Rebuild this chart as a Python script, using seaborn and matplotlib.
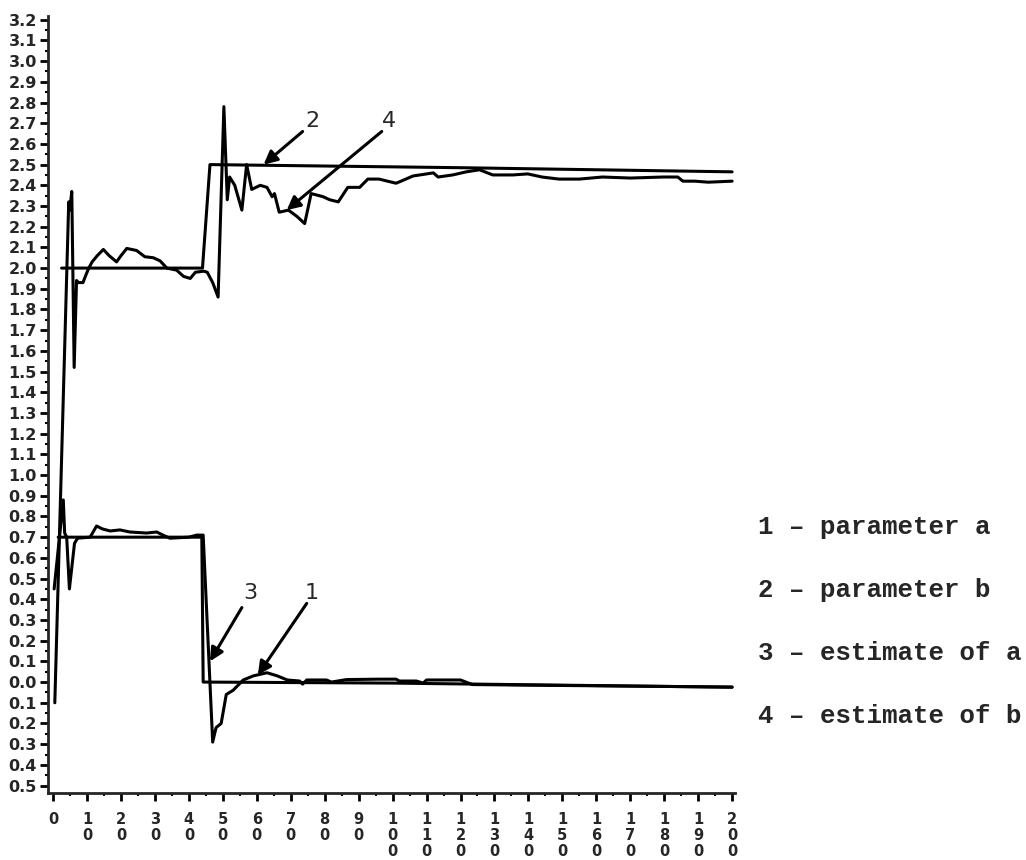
import matplotlib
matplotlib.use("Agg")
import matplotlib.pyplot as plt
from matplotlib.ticker import MultipleLocator, FixedLocator
import seaborn as sns

# ---- data -------------------------------------------------------------
# 1: true parameter a
param_a_x = [1.5, 43.8, 44.2, 100, 200]
param_a_y = [0.70, 0.70, 0.0, -0.005, -0.025]

# 2: true parameter b
param_b_x = [2.5, 44.0, 46.2, 120, 200]
param_b_y = [2.00, 2.00, 2.50, 2.485, 2.465]

# 3: estimate of a
est_a_x = [0.3, 3.0, 3.4, 4.0, 4.8, 6.3, 7.2, 10.9, 12.8, 14.5, 16.8, 19.7,
           22.6, 27.5, 30.5, 33.0, 34.4, 40.0, 42.3, 44.2, 47.0, 48.0, 49.5,
           51.0, 53.0, 56.0, 59.0, 63.0, 66.0, 69.0, 72.6, 73.5, 74.7, 80.5,
           82.0, 86.4, 96.0, 101.0, 102.0, 107.0, 109.0, 110.0, 120.0, 123.5,
           140.0, 160.0, 180.0, 200.0]
est_a_y = [0.45, 0.88, 0.72, 0.70, 0.45, 0.67, 0.695, 0.70, 0.754, 0.74, 0.73,
           0.735, 0.725, 0.72, 0.725, 0.705, 0.695, 0.70, 0.71, 0.71, -0.29,
           -0.22, -0.20, -0.06, -0.04, 0.01, 0.03, 0.045, 0.03, 0.01, 0.005,
           -0.01, 0.01, 0.01, 0.0, 0.012, 0.014, 0.014, 0.005, 0.005, -0.005,
           0.01, 0.01, -0.012, -0.015, -0.018, -0.021, -0.024]

# 4: estimate of b
est_b_x = [0.5, 4.6, 4.9, 5.5, 6.2, 6.9, 7.5, 8.8, 9.5, 10.5, 11.5, 13.0,
           14.8, 16.5, 18.7, 20.0, 21.7, 24.6, 27.0, 29.5, 31.5, 33.5, 36.4,
           38.4, 40.4, 41.9, 44.4, 45.4, 47.0, 48.6, 50.3, 51.3, 52.0, 53.5,
           55.6, 57.0, 58.5, 61.0, 63.0, 64.5, 65.2, 66.6, 69.3, 71.8, 74.1,
           76.0, 79.5, 81.5, 84.0, 86.8, 90.3, 92.7, 96.0, 101.0, 102.5, 106.0,
           112.0, 113.4, 117.7, 121.7, 125.6, 129.5, 135.4, 139.8, 144.0, 149.0,
           155.0, 161.8, 170.0, 179.7, 184.0, 185.5, 189.0, 193.0, 200.0]
est_b_y = [-0.10, 2.32, 2.28, 2.37, 1.52, 1.94, 1.93, 1.93, 1.96, 2.00, 2.03,
           2.06, 2.09, 2.06, 2.03, 2.06, 2.095, 2.085, 2.055, 2.05, 2.035, 2.00,
           1.99, 1.96, 1.95, 1.98, 1.985, 1.98, 1.93, 1.86, 2.78, 2.33, 2.44,
           2.40, 2.28, 2.50, 2.38, 2.40, 2.39, 2.345, 2.36, 2.27, 2.28, 2.25,
           2.215, 2.36, 2.345, 2.33, 2.32, 2.39, 2.39, 2.43, 2.43, 2.41, 2.42,
           2.445, 2.46, 2.44, 2.45, 2.465, 2.475, 2.45, 2.45, 2.455, 2.44, 2.43,
           2.43, 2.44, 2.435, 2.44, 2.44, 2.42, 2.42, 2.415, 2.42]

# tick positions / labels
x_ticks = [0, 10, 20, 30, 40, 50, 60, 70, 80, 90, 100, 110, 120, 130, 140,
           150, 160, 170, 180, 190, 200]
x_tick_labels = ["0", "1\n0", "2\n0", "3\n0", "4\n0", "5\n0", "6\n0", "7\n0",
                 "8\n0", "9\n0", "1\n0\n0", "1\n1\n0", "1\n2\n0", "1\n3\n0",
                 "1\n4\n0", "1\n5\n0", "1\n6\n0", "1\n7\n0", "1\n8\n0",
                 "1\n9\n0", "2\n0\n0"]
y_ticks = [3.2, 3.1, 3.0, 2.9, 2.8, 2.7, 2.6, 2.5, 2.4, 2.3, 2.2, 2.1, 2.0,
           1.9, 1.8, 1.7, 1.6, 1.5, 1.4, 1.3, 1.2, 1.1, 1.0, 0.9, 0.8, 0.7,
           0.6, 0.5, 0.4, 0.3, 0.2, 0.1, 0.0, -0.1, -0.2, -0.3, -0.4, -0.5]
y_tick_labels = ["3.2", "3.1", "3.0", "2.9", "2.8", "2.7", "2.6", "2.5", "2.4",
                 "2.3", "2.2", "2.1", "2.0", "1.9", "1.8", "1.7", "1.6", "1.5",
                 "1.4", "1.3", "1.2", "1.1", "1.0", "0.9", "0.8", "0.7", "0.6",
                 "0.5", "0.4", "0.3", "0.2", "0.1", "0.0", "0.1", "0.2", "0.3",
                 "0.4", "0.5"]

legend_lines = ["1 – parameter a", "2 – parameter b",
                "3 – estimate of a", "4 – estimate of b"]

# ---- figure -----------------------------------------------------------
sns.set_style("ticks")
plt.rcParams["font.family"] = ["DejaVu Sans"]

W, H = 1026, 860
fig = plt.figure(figsize=(W / 100, H / 100), dpi=100)
ax = fig.add_axes([0.0468, 0.0779, 0.6694, 0.904])

line_kw = dict(color="black", linewidth=2.2, estimator=None, sort=False,
               legend=False)
sns.lineplot(x=param_a_x, y=param_a_y, ax=ax, **line_kw)
sns.lineplot(x=param_b_x, y=param_b_y, ax=ax, **line_kw)
sns.lineplot(x=est_a_x, y=est_a_y, ax=ax, **line_kw)
sns.lineplot(x=est_b_x, y=est_b_y, ax=ax, **line_kw)

ax.set_xlim(-1.5, 200.8)
ax.set_ylim(-0.536, 3.22)

for side in ("top", "right"):
    ax.spines[side].set_visible(False)
for side in ("left", "bottom"):
    ax.spines[side].set_linewidth(2.0)

ax.xaxis.set_major_locator(FixedLocator(x_ticks))
ax.set_xticklabels(x_tick_labels, fontsize=10.5, fontweight="bold",
                   linespacing=1.05, va="top")
ax.xaxis.set_minor_locator(MultipleLocator(5))
ax.yaxis.set_major_locator(FixedLocator(y_ticks))
ax.set_yticklabels(y_tick_labels, fontsize=11.5, fontweight="bold")
ax.yaxis.set_minor_locator(MultipleLocator(0.05))

ax.tick_params(axis="both", which="major", direction="out", length=6,
               width=2.0, color="black")
ax.tick_params(axis="both", which="minor", direction="out", length=2.5,
               width=1.5, color="black")
ax.tick_params(axis="x", which="major", pad=8)
ax.tick_params(axis="y", which="major", pad=2)

# numbered arrows pointing at the curves
arrow_kw = dict(arrowstyle="-|>", color="black", lw=2.2, mutation_scale=20,
                shrinkA=0, shrinkB=0)
annotations = [("2", (62.0, 2.50), (73.5, 2.66), (76.5, 2.71)),
               ("4", (68.8, 2.28), (96.8, 2.66), (99.0, 2.71)),
               ("3", (46.2, 0.10), (55.6, 0.36), (58.0, 0.43)),
               ("1", (60.3, 0.034), (74.7, 0.38), (76.0, 0.43))]
for label, tip, tail, txt in annotations:
    ax.annotate("", xy=tip, xytext=tail, arrowprops=arrow_kw)
    ax.text(txt[0], txt[1], label, fontsize=16, ha="center", va="center")

# key to the numbered curves
for i, line in enumerate(legend_lines):
    fig.text(758 / W, 1 - (527 + 63 * i) / H, line, fontsize=18.5,
             family="Liberation Mono", fontweight="bold",
             ha="left", va="center")

fig.savefig("out.png", dpi=100, facecolor="white")
